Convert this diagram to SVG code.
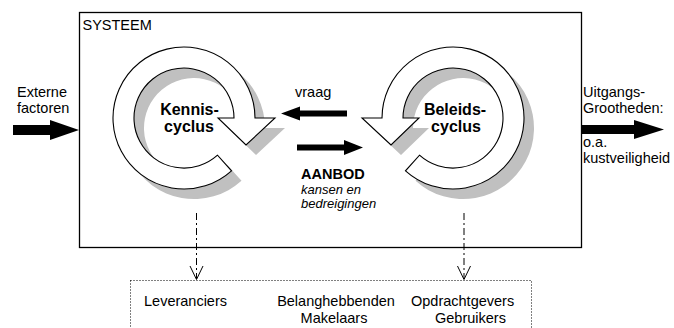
<svg xmlns="http://www.w3.org/2000/svg" xmlns:xlink="http://www.w3.org/1999/xlink" width="674" height="328" viewBox="0 0 674 328">
  <style>
    .t { font-family: "Liberation Sans", Arial, sans-serif; font-size: 14.5px; fill: #000; }
    .b { font-family: "Liberation Sans", Arial, sans-serif; font-weight: bold; fill: #000; }
    .i { font-family: "Liberation Sans", Arial, sans-serif; font-style: italic; font-size: 13px; fill: #000; }
    .ring { fill: #fff; stroke: #000; stroke-width: 1.1; stroke-linejoin: miter; }
    .shadow { fill: #c0c0c0; stroke: none; }
    .fat { fill: #000; stroke: none; }
    .dashdot { fill: none; stroke: #000; stroke-width: 1; stroke-dasharray: 7 3 2 3; }
    .vhead { fill: none; stroke: #000; stroke-width: 1; }
  </style>
  <defs>
    <!-- circular arrow: outer arc clockwise from the tail to the head, back along the inner arc -->
    <path id="cycle" d="M231.5,170.8 A71,71 0 1 1 255,118 L275,118 L246,145 L218,118 L234,118 A50,50 0 1 0 217.5,155.2 Z"/>
  </defs>

  <!-- system boundary -->
  <g id="systeem">
    <rect x="79.5" y="12.5" width="502" height="235" fill="#fff" stroke="#000" stroke-width="1.3"/>
    <text class="t" x="82.5" y="29.5">SYSTEEM</text>
  </g>

  <!-- knowledge cycle -->
  <g id="kenniscyclus">
    <use xlink:href="#cycle" class="shadow" transform="translate(10,10)"/>
    <use xlink:href="#cycle" class="ring"/>
    <text class="b" font-size="16" text-anchor="middle" x="189.5" y="114.5">Kennis-</text>
    <text class="b" font-size="16" text-anchor="middle" x="189" y="132">cyclus</text>
  </g>

  <!-- policy cycle (mirror image) -->
  <g id="beleidscyclus">
    <use xlink:href="#cycle" class="shadow" transform="translate(10,10) matrix(-1 0 0 1 637 0)"/>
    <use xlink:href="#cycle" class="ring" transform="matrix(-1 0 0 1 637 0)"/>
    <text class="b" font-size="16" text-anchor="middle" x="455" y="114.5">Beleids-</text>
    <text class="b" font-size="16" text-anchor="middle" x="456" y="132">cyclus</text>
  </g>

  <g id="externe-factoren">
    <text class="t" x="17" y="97">Externe</text>
    <text class="t" x="17" y="113">factoren</text>
  </g>

  <g id="uitgangsgrootheden">
    <text class="t" x="583" y="97">Uitgangs-</text>
    <text class="t" x="583" y="113">Grootheden:</text>
    <text class="t" x="583" y="147">o.a.</text>
    <text class="t" x="583" y="163">kustveiligheid</text>
  </g>

  <g id="vraag">
    <text class="t" x="295" y="97">vraag</text>
  </g>

  <g id="aanbod">
    <text class="b" font-size="14.5" x="301" y="179">AANBOD</text>
    <text class="i" x="301" y="193.5">kansen en</text>
    <text class="i" x="301" y="207.5">bedreigingen</text>
  </g>

  <!-- actors outside the system -->
  <g id="actoren">
    <rect x="130.5" y="280.5" width="401" height="60" fill="none" stroke="#000" stroke-width="1" stroke-dasharray="1 2"/>
    <text class="t" x="144" y="306">Leveranciers</text>
    <text class="t" text-anchor="middle" x="336" y="306">Belanghebbenden</text>
    <text class="t" text-anchor="middle" x="334" y="322.5">Makelaars</text>
    <text class="t" x="411" y="306">Opdrachtgevers</text>
    <text class="t" x="435" y="322.5">Gebruikers</text>
  </g>

  <g id="connectors">
    <!-- input and output flows -->
    <polygon class="fat" points="13,125 50,125 50,120 79,130 50,140 50,135 13,135"/>
    <polygon class="fat" points="581,125 634,125 634,120 664,129.5 634,139 634,134 581,134"/>
    <!-- demand: policy to knowledge -->
    <polygon class="fat" points="281,113.5 300,106.5 300,110.5 347,110.5 347,116.5 300,116.5 300,120.5"/>
    <!-- supply: knowledge to policy -->
    <polygon class="fat" points="297,144.5 344,144.5 344,140 363,147.5 344,155 344,150.5 297,150.5"/>
    <!-- links to the actors -->
    <line class="dashdot" x1="196.5" y1="213" x2="196.5" y2="279"/>
    <polyline class="vhead" points="190,266 196.5,279.5 203,266"/>
    <line class="dashdot" x1="464" y1="213" x2="464" y2="279"/>
    <polyline class="vhead" points="457.5,266 464,279.5 470.5,266"/>
  </g>
</svg>
